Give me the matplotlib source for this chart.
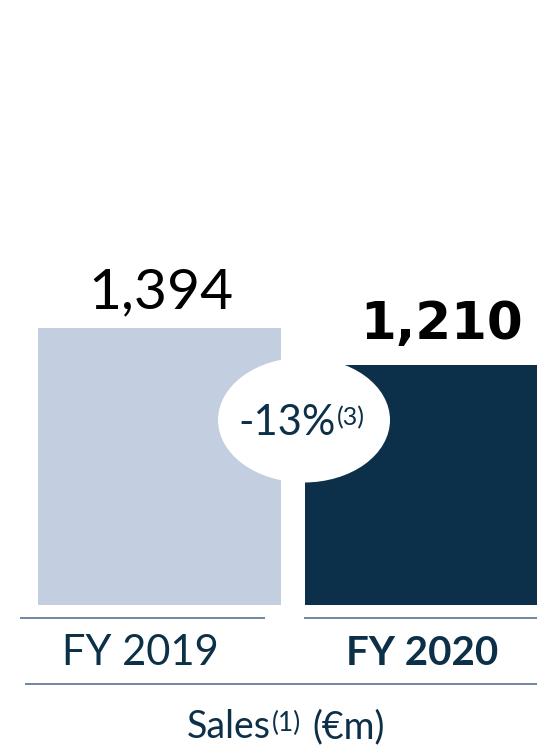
import matplotlib
matplotlib.use("Agg")
import matplotlib.pyplot as plt
from matplotlib.patches import Ellipse
from matplotlib.transforms import Affine2D

# ---- data -------------------------------------------------------------
categories = ["FY 2019", "FY 2020"]
sales = [1394, 1210]
change_label = "-13%"
change_note = "(3)"
title_main = "Sales"
title_note = "(1)"
title_unit = "(€m)"

# ---- style ------------------------------------------------------------
W, H, DPI = 537, 747, 100
BAR_COLORS = ["#c3cfe0", "#0c3049"]
NAVY = "#0d3049"
RULE = "#4a6582"
FONT = "Lato"

plt.rcParams["font.family"] = [FONT, "DejaVu Sans"]

fig = plt.figure(figsize=(W / DPI, H / DPI), dpi=DPI)
fig.patch.set_facecolor("white")

# Main axes: category index on x, sales on y
ax = fig.add_axes([0, 0, 1, 1])
ax.axis("off")
ax.set_xlim(-0.5974, 1.4139)
ax.set_ylim(-714.6, 3044.6)

x = list(range(len(categories)))
bars = ax.bar(x, sales, width=0.91, color=BAR_COLORS, zorder=1)

# Overlay axes in pixel units for rules and captions
deco = fig.add_axes([0, 0, 1, 1], zorder=3)
deco.axis("off")
deco.set_xlim(0, W)
deco.set_ylim(H, 0)
deco.patch.set_alpha(0)

renderer = fig.canvas.get_renderer()


def text_runs(axis, cx, baseline, runs, color):
    """Draw a row of text pieces centred on cx; each piece is
    (text, size, weight, raise_px, gap_before_px)."""
    items = []
    for s, size, weight, rise, gap in runs:
        t = axis.text(cx, baseline, s, fontsize=size, fontweight=weight,
                      color=color, ha="left", va="baseline", zorder=5)
        items.append((t, rise, gap))
    widths = [t.get_window_extent(renderer).width for t, _, _ in items]
    total = sum(widths) + sum(g for _, _, g in items)
    pos = -total / 2
    for (t, rise, gap), w in zip(items, widths):
        pos += gap
        t.set_transform(axis.transData + Affine2D().translate(pos, rise))
        pos += w
    return items


# Value labels above the bars
ax.annotate(f"{sales[0]:,}", xy=(x[0], sales[0]), xytext=(1.5, 20),
            textcoords="offset pixels", ha="center", va="baseline",
            fontsize=41, fontweight="normal", color="black")
ax.annotate(f"{sales[1]:,}", xy=(x[1], sales[1]), xytext=(15.5, 26),
            textcoords="offset pixels", ha="center", va="baseline",
            fontsize=37, fontweight="bold", color="black",
            family="DejaVu Sans")

# Change bubble between the bars
bubble = Ellipse((304, 420), 172, 125, facecolor="white", edgecolor="none",
                 zorder=4)
deco.add_patch(bubble)
text_runs(deco, 302, 435,
          [(change_label, 30, "normal", 0, 0),
           (change_note, 18, "normal", 10, 1)], NAVY)

# Rules under the bars
deco.hlines(618, 20, 265, color=RULE, linewidth=1.1)
deco.hlines(618, 304, W, color=RULE, linewidth=1.1)
deco.hlines(684, 25, W, color=RULE, linewidth=1.1)

# Category captions
text_runs(deco, 140, 665, [(categories[0], 30, "normal", 0, 0)], NAVY)
text_runs(deco, 422, 665, [(categories[1], 29, "bold", 0, 0)], NAVY)

# Chart caption
text_runs(deco, 286, 738,
          [(title_main, 27, "normal", 0, 0),
           (title_note, 19, "normal", 7, 1),
           (title_unit, 27, "normal", 0, 12)], NAVY)

fig.savefig("out.png", dpi=DPI, facecolor="white")
